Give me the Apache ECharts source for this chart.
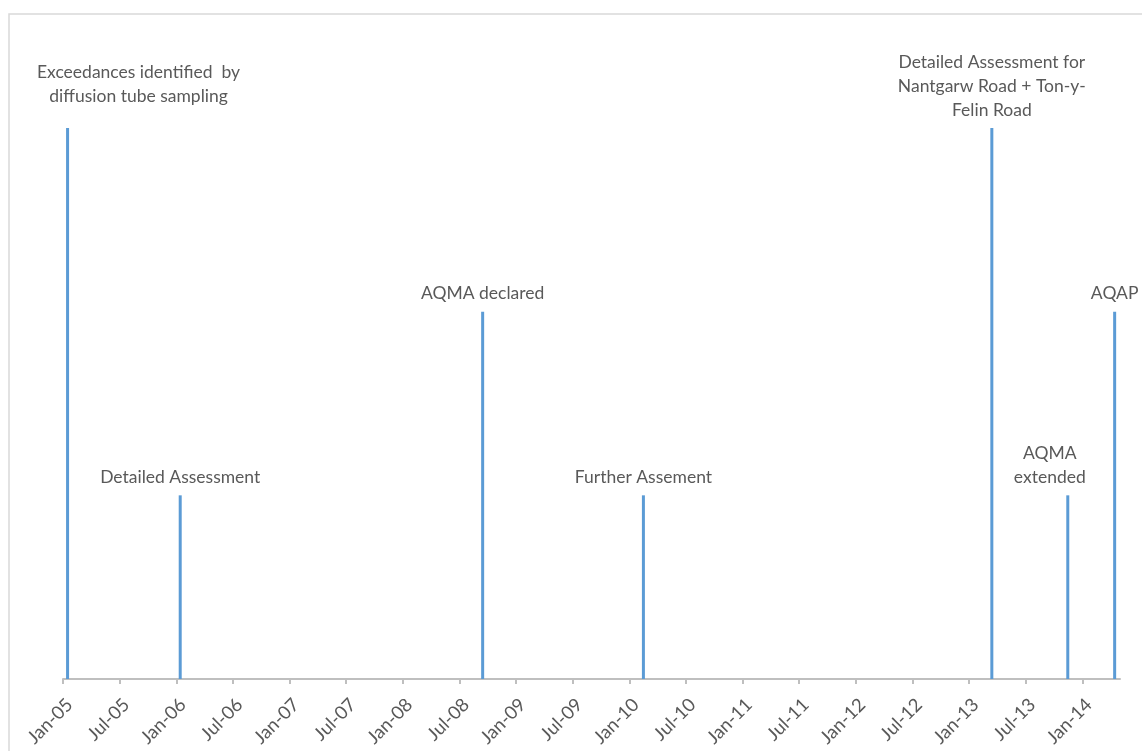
<!DOCTYPE html>
<html><head><meta charset="utf-8">
<script src="https://cdn.jsdelivr.net/npm/echarts@6/dist/echarts.min.js"></script>
<style>html,body{margin:0;padding:0;background:#fff}#c{width:1142px;height:751px}</style>
</head><body><div id="c"></div>
<script>
// Event dates and labels
const eventDates = ['2005-01-16','2006-01-14','2008-09-15','2010-02-15','2013-03-14','2013-11-15','2014-04-14'];
const eventLevels = [3, 1, 2, 1, 3, 1, 2];
const eventLabels = [
  'Exceedances identified  by\ndiffusion tube sampling',
  'Detailed Assessment',
  'AQMA declared',
  'Further Assement',
  'Detailed Assessment for\nNantgarw Road + Ton-y-\nFelin Road',
  'AQMA\nextended',
  'AQAP'
];
const tickLabels = ['Jan-05','Jul-05','Jan-06','Jul-06','Jan-07','Jul-07','Jan-08','Jul-08','Jan-09','Jul-09','Jan-10','Jul-10','Jan-11','Jul-11','Jan-12','Jul-12','Jan-13','Jul-13','Jan-14'];
const startYear = 2005;

function monthsSinceStart(s) {
  const [y, m, d] = s.split('-').map(Number);
  const dim = new Date(y, m, 0).getDate();
  return (y - startYear) * 12 + (m - 1) + (d - 1) / dim;
}
const labelOffsets = {0: [71, -14], 5: [-18, 0]};

const data = eventDates.map((d, i) => {
  const item = { value: [monthsSinceStart(d), eventLevels[i]], name: eventLabels[i] };
  if (labelOffsets[i]) item.label = { offset: labelOffsets[i] };
  return item;
});

const chart = echarts.init(document.getElementById('c'), null, {renderer: 'canvas'});
chart.setOption({
  animation: false,
  backgroundColor: '#fff',
  graphic: [{
    type: 'rect', silent: true, z: -1,
    shape: { x: 9, y: 14, width: 1300, height: 900 },
    style: { fill: 'none', stroke: '#D9D9D9', lineWidth: 1.5 }
  }],
  grid: { left: 63, right: 22, top: 128, bottom: 72, containLabel: false },
  xAxis: {
    type: 'value', min: 0, max: 112, interval: 6,
    axisLine: { show: true, lineStyle: { color: '#BFBFBF', width: 2 } },
    axisTick: { show: true, length: 5, lineStyle: { color: '#BFBFBF', width: 2 } },
    splitLine: { show: false },
    axisLabel: {
      rotate: 45, color: '#595959', fontFamily: 'Lato', fontSize: 18.5, margin: 16,
      verticalAlign: 'top',
      showMaxLabel: false,
      formatter: v => tickLabels[Math.round(v / 6)] || ''
    }
  },
  yAxis: { type: 'value', min: 0, max: 3, show: false, splitLine: { show: false } },
  series: [{
    type: 'bar',
    barWidth: 3,
    itemStyle: { color: '#5B9BD5' },
    data: data,
    label: {
      show: true, position: 'top', distance: 6,
      formatter: p => p.name,
      color: '#595959', fontFamily: 'Lato', fontSize: 17.5, lineHeight: 24, align: 'center'
    }
  }]
});
</script></body></html>
